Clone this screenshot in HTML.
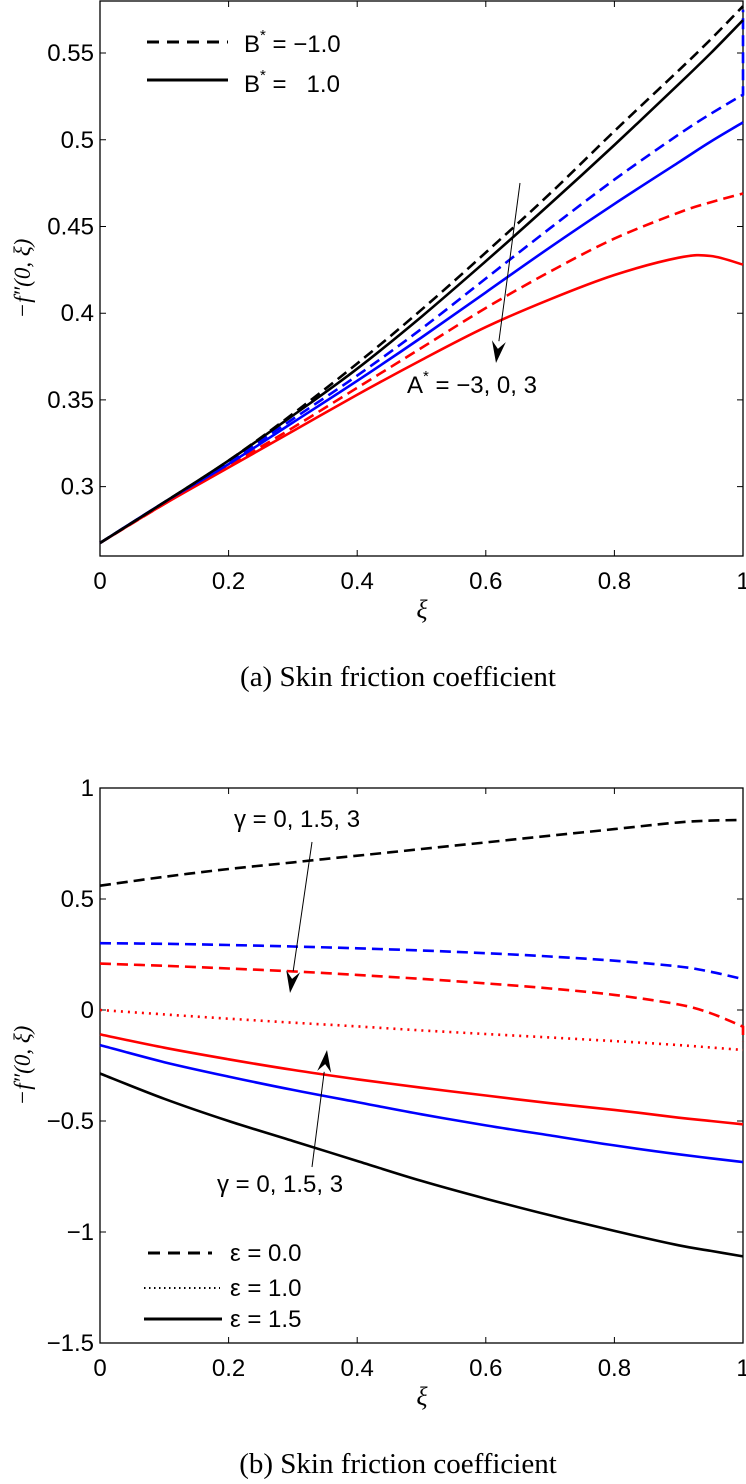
<!DOCTYPE html>
<html><head><meta charset="utf-8"><style>
html,body{margin:0;padding:0;background:#fff;}
svg text{font-family:"Liberation Sans",sans-serif;}
.serif{font-family:"Liberation Serif",serif;}
</style></head><body>
<svg id="fig" width="746" height="1479" viewBox="0 0 746 1479" xmlns="http://www.w3.org/2000/svg">
<g id="chartA"></g>
<g id="chartB"></g>
</svg>
<script>
// ---- Chart (a) data ----
const xiA = [0,0.1,0.2,0.3,0.4,0.5,0.6,0.7,0.8,0.9,0.95,1.0];
const aBlackDash = [0.2675,0.291,0.315,0.342,0.371,0.402,0.435,0.469,0.505,0.540,0.558,0.577];
const aBlackSolid = [0.2675,0.291,0.315,0.341,0.368,0.398,0.430,0.463,0.497,0.532,0.550,0.569];
const aBlueDash = [0.2675,0.291,0.314,0.339,0.364,0.391,0.420,0.449,0.477,0.503,0.515,0.526];
const aBlueSolid = [0.2675,0.291,0.313,0.337,0.361,0.386,0.412,0.438,0.463,0.487,0.499,0.510];
const aRedDash = [0.2675,0.290,0.312,0.334,0.357,0.380,0.403,0.424,0.443,0.458,0.464,0.469];
const aRedSolid = [0.2675,0.290,0.311,0.332,0.353,0.373,0.392,0.408,0.422,0.432,0.433,0.428];
const aYTicks = [0.3,0.35,0.4,0.45,0.5,0.55];
const aYTickLabels = ["0.3","0.35","0.4","0.45","0.5","0.55"];
const xTicks = [0,0.2,0.4,0.6,0.8,1];
const xTickLabels = ["0","0.2","0.4","0.6","0.8","1"];
// ---- Chart (b) data ----
const xiB = [0,0.1,0.2,0.3,0.4,0.5,0.6,0.7,0.8,0.9,0.95,1.0];
const bBlackDash = [0.56,0.60,0.635,0.665,0.695,0.725,0.755,0.785,0.815,0.845,0.853,0.856];
const bBlueDash = [0.301,0.298,0.293,0.286,0.278,0.268,0.256,0.241,0.222,0.196,0.172,0.139];
const bRedDash = [0.209,0.199,0.187,0.174,0.158,0.140,0.120,0.097,0.068,0.025,-0.015,-0.075];
const bRedDot = [0,-0.02,-0.039,-0.057,-0.074,-0.092,-0.108,-0.124,-0.140,-0.158,-0.169,-0.18];
const bRedSolid = [-0.11,-0.17,-0.222,-0.27,-0.312,-0.35,-0.385,-0.42,-0.45,-0.485,-0.50,-0.515];
const bBlueSolid = [-0.158,-0.235,-0.30,-0.36,-0.415,-0.47,-0.52,-0.565,-0.61,-0.65,-0.668,-0.685];
const bBlackSolid = [-0.286,-0.40,-0.50,-0.59,-0.68,-0.77,-0.85,-0.925,-0.995,-1.06,-1.085,-1.11];
const bYTicks = [-1.5,-1,-0.5,0,0.5,1];
const bYTickLabels = ["\u22121.5","\u22121","\u22120.5","0","0.5","1"];

const NS="http://www.w3.org/2000/svg";
function mk(tag, attrs, parent){const e=document.createElementNS(NS,tag);for(const k in attrs)e.setAttribute(k,attrs[k]);parent.appendChild(e);return e;}

const X0=100, X1=743;
function xs(v){return X0+(X1-X0)*v;}

function drawAxes(g, top, bottom, ymin, ymax, yTicks, yLabels, cap, capLetter){
  const ys=v=>bottom-(bottom-top)*(v-ymin)/(ymax-ymin);
  const frame=mk('rect',{x:X0,y:top,width:X1-X0,height:bottom-top,fill:'none',stroke:'#000','stroke-width':1.3},g);
  
  
  yTicks.forEach((v,i)=>{
    const y=ys(v);
    const t=mk('path',{d:`M${X0} ${y}h6M${X1} ${y}h-6`,stroke:'#000','stroke-width':1},g);
    
    
    const l=mk('text',{x:X0-6,y:y+8,'text-anchor':'end','font-size':24},g);
    l.textContent=yLabels[i];
    
    
  });
  xTicks.forEach((v,i)=>{
    const x=xs(v);
    const t=mk('path',{d:`M${x} ${bottom}v-6M${x} ${top}v6`,stroke:'#000','stroke-width':1},g);
    
    
    const l=mk('text',{x:x,y:bottom+33,'text-anchor':'middle','font-size':24},g);
    l.textContent=xTickLabels[i];
    
    
  });
  const xt=mk('text',{x:422,y:bottom+62,'text-anchor':'middle','font-size':26,'font-style':'italic',class:'serif'},g);
  xt.textContent='ξ';
  
  
  const cy=(top+bottom)/2;
  const yt=mk('text',{x:0,y:0,'text-anchor':'middle','font-size':23,'font-style':'italic',class:'serif',transform:`translate(30 ${cy}) rotate(-90)`},g);
  yt.textContent='−f″(0, ξ)';
  
  
  const c=mk('text',{x:398,y:bottom+130,'text-anchor':'middle','font-size':29,class:'serif'},g);
  c.textContent=`(${capLetter})  ${cap}`;
  
  
  return ys;
}

function smoothPath(pts){
  let d=`M${pts[0][0].toFixed(1)} ${pts[0][1].toFixed(1)}`;
  for(let i=0;i<pts.length-1;i++){
    const p0=pts[Math.max(0,i-1)],p1=pts[i],p2=pts[i+1],p3=pts[Math.min(pts.length-1,i+2)];
    const c1=[p1[0]+(p2[0]-p0[0])/6,p1[1]+(p2[1]-p0[1])/6];
    const c2=[p2[0]-(p3[0]-p1[0])/6,p2[1]-(p3[1]-p1[1])/6];
    d+=` C${c1[0].toFixed(1)} ${c1[1].toFixed(1)} ${c2[0].toFixed(1)} ${c2[1].toFixed(1)} ${p2[0].toFixed(1)} ${p2[1].toFixed(1)}`;
  }
  return d;
}
function series(g, xsArr, vals, ys, color, dash, name, extra){
  const pts=vals.map((v,i)=>[xs(xsArr[i]),ys(v)]);
  let d=smoothPath(pts);
  if(extra!==undefined) d+=` L${xs(1).toFixed(1)} ${ys(extra).toFixed(1)}`;
  const p=mk('path',{d:d,fill:'none',stroke:color,'stroke-width':2.6,'stroke-dasharray':dash||'none'},g);
  
  
  return p;
}
function arrow(g,x1,y1,x2,y2,name){
  const a=Math.atan2(y2-y1,x2-x1), L=22, W=7;
  const bx=x2-L*Math.cos(a), by=y2-L*Math.sin(a);
  const px=-Math.sin(a)*W, py=Math.cos(a)*W;
  const line=mk('path',{d:`M${x1} ${y1}L${bx} ${by}`,stroke:'#000','stroke-width':1},g);
  
  
  const head=mk('path',{d:`M${x2} ${y2}L${bx+px} ${by+py}L${bx+0.35*(x2-bx)} ${by+0.35*(y2-by)}L${bx-px} ${by-py}Z`,fill:'#000'},g);
  
  
}
function label(g,x,y,html,name,size){
  const t=mk('text',{x:x,y:y,'font-size':size||24},g);
  t.innerHTML=html;
  
  
  return t;
}

// ---- Chart A ----
const gA=document.getElementById('chartA');
const ysA=drawAxes(gA,1,556,0.26,0.58,aYTicks,aYTickLabels,'Skin friction coefficient','a');
const DASH='11 6';
series(gA,xiA,aRedSolid,ysA,'#ff0000',null,'series-red-solid');
series(gA,xiA,aRedDash,ysA,'#ff0000',DASH,'series-red-dashed');
series(gA,xiA,aBlueSolid,ysA,'#0000ff',null,'series-blue-solid');
series(gA,xiA,aBlueDash,ysA,'#0000ff',DASH,'series-blue-dashed',0.575);
series(gA,xiA,aBlackSolid,ysA,'#000',null,'series-black-solid');
series(gA,xiA,aBlackDash,ysA,'#000',DASH,'series-black-dashed');
arrow(gA,520,183,496,363,'annotation-arrow-a');
label(gA,407,393,'A<tspan dy="-12" font-size="15">*</tspan><tspan dy="12"> = −3, 0, 3</tspan>','annotation-a-star');
const legA=mk('g',{},gA);


let l1=mk('path',{d:'M147 42H228',stroke:'#000','stroke-width':3,'stroke-dasharray':'12 8'},legA);


let l2=mk('path',{d:'M147 80H228',stroke:'#000','stroke-width':3},legA);


label(legA,244,52,'B<tspan dy="-12" font-size="15">*</tspan><tspan dy="12"> = −1.0</tspan>','legend-entry-b-neg');
label(legA,244,92,'B<tspan dy="-12" font-size="15">*</tspan><tspan dy="12" xml:space="preserve"> =   1.0</tspan>','legend-entry-b-pos');

// ---- Chart B ----
const gB=document.getElementById('chartB');
const ysB=drawAxes(gB,788,1343,-1.5,1,bYTicks,bYTickLabels,'Skin friction coefficient','b');
series(gB,xiB,bBlackSolid,ysB,'#000',null,'series-black-solid');
series(gB,xiB,bBlueSolid,ysB,'#0000ff',null,'series-blue-solid');
series(gB,xiB,bRedSolid,ysB,'#ff0000',null,'series-red-solid');
series(gB,xiB,bRedDot,ysB,'#ff0000','2 5','series-red-dotted');
series(gB,xiB,bRedDash,ysB,'#ff0000',DASH,'series-red-dashed',-0.14);
series(gB,xiB,bBlueDash,ysB,'#0000ff',DASH,'series-blue-dashed');
series(gB,xiB,bBlackDash,ysB,'#000',DASH,'series-black-dashed');
arrow(gB,312,842,290,993,'annotation-arrow-top');
arrow(gB,312,1167,327,1050,'annotation-arrow-bottom');
label(gB,234,827,'γ = 0, 1.5, 3','annotation-gamma-top');
label(gB,217,1192,'γ = 0, 1.5, 3','annotation-gamma-bottom');
const legB=mk('g',{},gB);


let s1=mk('path',{d:'M148 1253H212',stroke:'#000','stroke-width':3,'stroke-dasharray':'12 8'},legB);


let s2=mk('path',{d:'M144 1288H220',stroke:'#000','stroke-width':2,'stroke-dasharray':'1.5 3.5'},legB);


let s3=mk('path',{d:'M144 1319H222',stroke:'#000','stroke-width':3},legB);


label(legB,230,1261,'ε = 0.0','legend-entry-eps-0');
label(legB,230,1296,'ε = 1.0','legend-entry-eps-1');
label(legB,230,1327,'ε = 1.5','legend-entry-eps-1-5');
</script>
</body></html>
